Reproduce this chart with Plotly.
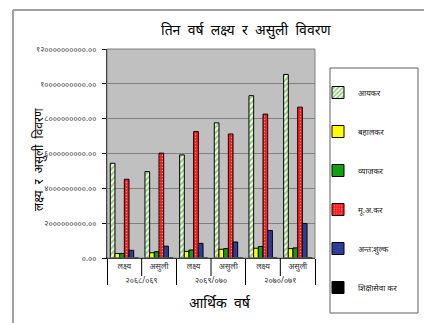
import plotly.graph_objects as go

years = ["२०६८/०६९", "२०६८/०६९", "२०६९/०७०", "२०६९/०७०", "२०७०/०७१", "२०७०/०७१"]
kinds = ["लक्ष्य", "असुली", "लक्ष्य", "असुली", "लक्ष्य", "असुली"]

series_names = ["आयकर", "बहालकर", "व्याजकर", "मू.अ.कर", "अन्त:शुल्क", "शिक्षासेवा कर"]
income_tax = [5.44e9, 4.96e9, 5.92e9, 7.76e9, 9.32e9, 10.54e9]
rent_tax = [0.26e9, 0.30e9, 0.38e9, 0.50e9, 0.56e9, 0.54e9]
interest_tax = [0.26e9, 0.36e9, 0.46e9, 0.54e9, 0.66e9, 0.58e9]
vat = [4.52e9, 6.02e9, 7.26e9, 7.12e9, 8.26e9, 8.66e9]
excise = [0.44e9, 0.68e9, 0.84e9, 0.92e9, 1.58e9, 1.98e9]
edu_tax = [0.01e9, 0.01e9, 0.01e9, 0.01e9, 0.02e9, 0.02e9]

tick_vals = [0, 2e9, 4e9, 6e9, 8e9, 10e9, 12e9]
tick_text = ["०.००", "२०००००००००.००", "४०००००००००.००", "६०००००००००.००",
             "८०००००००००.००", "१००००००००००.००", "१२००००००००००.००"]

values = [income_tax, rent_tax, interest_tax, vat, excise, edu_tax]
styles = [
    dict(color="#ffffff", pattern=dict(shape="/", fgcolor="#2e9a00", bgcolor="#ffffff", size=4, solidity=0.55)),
    dict(color="#ffff00"),
    dict(color="#10a010"),
    dict(color="#ff1a1a", pattern=dict(shape=".", fgcolor="#ffffff", bgcolor="#ff1a1a", size=3, solidity=0.2)),
    dict(color="#2c3d9c"),
    dict(color="#000000"),
]

FONT = "Noto Sans, DejaVu Sans, sans-serif"

fig = go.Figure()
for name, vals, st in zip(series_names, values, styles):
    fig.add_trace(go.Bar(
        x=[years, kinds], y=vals, name=name, legendgroup=name,
        marker=dict(line=dict(color="#000000", width=1), **st),
    ))

L, R, T, B = 107, 109, 49, 65
W, H = 424, 323
pw, ph = W - L - R, H - T - B

def px(x):
    return (x - L) / pw

def py(y):
    return (H - B - y) / ph

shapes = [
    dict(type="line", xref="paper", yref="paper", x0=px(13), x1=px(430), y0=py(10), y1=py(10),
         line=dict(color="#a0a0a0", width=2)),
    dict(type="line", xref="paper", yref="paper", x0=px(13), x1=px(13), y0=py(10), y1=py(330),
         line=dict(color="#a0a0a0", width=2)),
    dict(type="rect", xref="paper", yref="paper", x0=0, x1=1, y0=0, y1=1,
         line=dict(color="#808080", width=1)),
    dict(type="rect", xref="paper", yref="paper", x0=px(330), x1=px(418), y0=py(313), y1=py(68),
         line=dict(color="#606060", width=1)),
]
for k in (1, 3, 5):
    shapes.append(dict(type="line", xref="paper", yref="paper", x0=k / 6, x1=k / 6,
                       y0=0, y1=py(276), line=dict(color="#000000", width=1)))

fig.update_layout(
    width=W, height=H,
    margin=dict(l=L, r=R, t=T, b=B),
    paper_bgcolor="#ffffff",
    plot_bgcolor="#c0c0c0",
    font=dict(family=FONT, color="#000000"),
    barmode="group", bargap=0.19, bargroupgap=0,
    showlegend=True,
    legend=dict(x=px(318), y=py(78), xanchor="left", yanchor="top",
                bgcolor="rgba(0,0,0,0)", borderwidth=0,
                font=dict(size=8, family=FONT, color="#202020"), tracegroupgap=20,
                itemwidth=30, maxheight=320),
    shapes=shapes,
    annotations=[
        dict(text="तिन  वर्ष  लक्ष्य  र  असुली  विवरण", x=px(246), y=py(30), xref="paper", yref="paper",
             showarrow=False, font=dict(size=14, family=FONT), xanchor="center", yanchor="middle"),
        dict(text="लक्ष्य  र  असुली  विवरण", x=px(38), y=py(160), xref="paper", yref="paper",
             showarrow=False, textangle=-90, font=dict(size=12, family=FONT),
             xanchor="center", yanchor="middle"),
        dict(text="आर्थिक  वर्ष", x=px(220), y=py(302), xref="paper", yref="paper",
             showarrow=False, font=dict(size=14, family=FONT), xanchor="center", yanchor="middle"),
    ],
)
fig.update_yaxes(range=[0, 12e9], tickvals=tick_vals, ticktext=tick_text,
                 tickfont=dict(size=8, family=FONT, color="#404040"),
                 showgrid=True, gridcolor="#808080", gridwidth=1,
                 showline=True, linecolor="#000000", linewidth=1,
                 ticks="outside", ticklen=4, tickcolor="#000000", zeroline=False,
                 ticklabelstandoff=4)
fig.update_xaxes(type="multicategory", tickfont=dict(size=8, family=FONT, color="#303030"),
                 showline=True, linecolor="#000000", linewidth=1,
                 showdividers=True, dividercolor="#000000", dividerwidth=1,
                 ticks="", showgrid=False)

fig.write_html("out.html")
